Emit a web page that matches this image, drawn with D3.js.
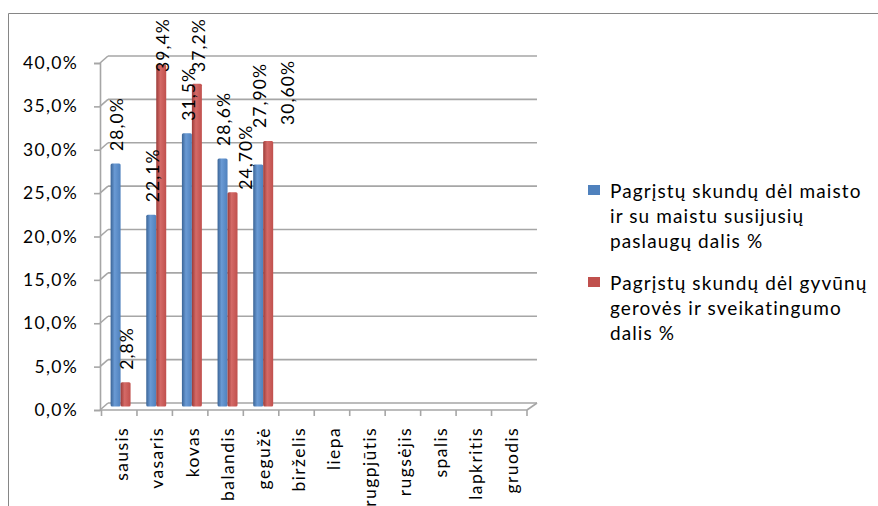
<!DOCTYPE html>
<html>
<head>
<meta charset="utf-8">
<script src="https://cdn.jsdelivr.net/npm/d3@7/dist/d3.min.js"></script>
<style>
  html, body { margin: 0; padding: 0; background: #fff; }
  svg { display: block; }
  text { font-family: Lato, "Open Sans", sans-serif; fill: #000; }
</style>
</head>
<body>
<svg id="chart" width="878" height="506"></svg>
<script>
// ---- data ----
const categories = ["sausis", "vasaris", "kovas", "balandis", "gegužė", "birželis",
                    "liepa", "rugpjūtis", "rugsėjis", "spalis", "lapkritis", "gruodis"];
const foodValues   = [28.0, 22.1, 31.5, 28.6, 27.9, null, null, null, null, null, null, null];
const animalValues = [2.8, 39.4, 37.2, 24.7, 30.6, null, null, null, null, null, null, null];
const foodLabels   = ["28,0%", "22,1%", "31,5%", "28,6%", "27,90%"];
const animalLabels = ["2,8%", "39,4%", "37,2%", "24,70%", "30,60%"];
const yTickValues  = [0, 5, 10, 15, 20, 25, 30, 35, 40];
const yTickLabels  = ["0,0%", "5,0%", "10,0%", "15,0%", "20,0%", "25,0%", "30,0%", "35,0%", "40,0%"];
const seriesNames  = [
  ["Pagrįstų skundų dėl maisto", "ir su maistu susijusių", "paslaugų dalis %"],
  ["Pagrįstų skundų dėl gyvūnų", "gerovės ir sveikatingumo", "dalis %"]
];

// ---- layout ----
const svg = d3.select("#chart");
const colors = ["#4F81BD", "#C0504D"];
const dark   = ["#3A6496", "#9B3B38"];
const light  = ["#6A9AD4", "#D46A67"];
const depth = { dx: 8, dy: -7 };
const frontLeft = 100, frontRight = 527;
const yFront = d3.scaleLinear().domain([0, 40]).range([410, 63]);
const yBar   = d3.scaleLinear().domain([0, 40]).range([406.5, 59.5]);
const xFront = d3.scaleBand().domain(categories).range([frontLeft + 1.5, frontRight]);
const xBar   = d3.scaleBand().domain(categories).range([frontLeft + 1.7, frontLeft + 1.7 + 12 * 35.65]);
// manual label nudges (Excel placement): [dx, dy]
const labelShift = [
  [[0, 0], [0, 0], [0, 0], [0, 0], [0, -24]],
  [[0, 0], [0, 0], [0, 0], [11.5, 10], [18, -3.5]]
];
const labelFont = 17.5, labelSpacing = 1.1;

// chart area border
svg.append("path")
  .attr("d", "M8.5,506 V13.5 H878")
  .attr("fill", "none").attr("stroke", "#868686").attr("stroke-width", 1);

// defs: gradients
const defs = svg.append("defs");
[0, 1].forEach(i => {
  const g = defs.append("linearGradient").attr("id", "grad" + i)
    .attr("x1", "0%").attr("x2", "100%").attr("y1", "0%").attr("y2", "0%");
  g.append("stop").attr("offset", "0%").attr("stop-color", dark[i]);
  g.append("stop").attr("offset", "40%").attr("stop-color", light[i]);
  g.append("stop").attr("offset", "100%").attr("stop-color", colors[i]);
});

const gridColor = "#A6A6A6";
const grid = svg.append("g");
yTickValues.forEach(v => {
  const yf = yFront(v), yb = yf + depth.dy;
  grid.append("line")
    .attr("x1", frontLeft + depth.dx).attr("x2", frontRight + depth.dx + 2)
    .attr("y1", yb).attr("y2", yb)
    .attr("stroke", gridColor).attr("stroke-width", 1.6);
  grid.append("line")
    .attr("x1", frontLeft).attr("y1", yf)
    .attr("x2", frontLeft + depth.dx).attr("y2", yb)
    .attr("stroke", gridColor).attr("stroke-width", 1.6);
});
grid.append("line")
  .attr("x1", frontRight).attr("y1", yFront(0))
  .attr("x2", frontRight + depth.dx + 2).attr("y2", yFront(0) + depth.dy)
  .attr("stroke", gridColor).attr("stroke-width", 1.6);

// value axis (front)
const yAxis = d3.axisLeft(yFront).tickValues(yTickValues)
  .tickFormat((d, i) => yTickLabels[i]).tickSize(6).tickPadding(16);
const ya = svg.append("g").attr("transform", `translate(${frontLeft},0)`).call(yAxis);
ya.select(".domain").attr("stroke", gridColor).attr("stroke-width", 1.6);
ya.selectAll(".tick line").attr("stroke", gridColor).attr("stroke-width", 1.6);
ya.selectAll(".tick text").attr("font-size", 17.5).attr("letter-spacing", 1.3)
  .style("font-family", "Lato, sans-serif").attr("fill", "#000");

// category axis
const xa = svg.append("g").attr("transform", `translate(0,${yFront(0)})`);
xa.append("line").attr("x1", frontLeft).attr("x2", frontRight)
  .attr("stroke", gridColor).attr("stroke-width", 1.6);
const boundaries = categories.map(c => xFront(c)).concat([xFront(categories[11]) + xFront.bandwidth()]);
xa.selectAll("line.tk").data(boundaries).enter().append("line").attr("class", "tk")
  .attr("x1", d => d).attr("x2", d => d).attr("y1", 0).attr("y2", 6)
  .attr("stroke", gridColor).attr("stroke-width", 1.6);
xa.selectAll("text.cat").data(categories).enter().append("text").attr("class", "cat")
  .attr("transform", d => `translate(${xFront(d) + xFront.bandwidth() / 2 + 2},17) rotate(-90)`)
  .attr("text-anchor", "end").attr("dominant-baseline", "central")
  .attr("font-size", 17.5).attr("letter-spacing", 1.4)
  .text(d => d);

// bars
const series = [foodValues, animalValues];
const seriesLabels = [foodLabels, animalLabels];
const bw = xBar.bandwidth();
series.forEach((vals, s) => {
  const g = svg.append("g");
  const rows = vals.map((v, i) => ({ v, i, c: categories[i] })).filter(d => d.v != null);
  g.selectAll("rect").data(rows).enter().append("rect")
    .attr("x", d => xBar(d.c) + bw * (0.25 + 0.28 * s))
    .attr("width", bw * 0.28)
    .attr("y", d => yBar(d.v))
    .attr("height", d => yBar(0) - yBar(d.v))
    .attr("rx", 1.5)
    .attr("fill", `url(#grad${s})`);
});

// data labels
series.forEach((vals, s) => {
  const g = svg.append("g");
  const rows = vals.map((v, i) => ({ v, i, c: categories[i] })).filter(d => d.v != null);
  g.selectAll("text").data(rows).enter().append("text")
    .attr("text-anchor", "start").attr("dominant-baseline", "central")
    .attr("font-size", labelFont).attr("letter-spacing", labelSpacing)
    .text(d => seriesLabels[s][d.i])
    .each(function (d) {
      const len = this.getComputedTextLength();
      const sh = labelShift[s][d.i];
      let bottom = yBar(d.v) - 12.5 + sh[1];
      if (bottom - len < 18) bottom = 18 + len;
      const cx = xBar(d.c) + bw * (0.25 + 0.28 * s + 0.14) + 1.3 + sh[0];
      d3.select(this).attr("transform", `translate(${cx},${bottom}) rotate(-90)`);
    });
});

// legend
const legend = svg.append("g");
const legendTop = [185, 277];
seriesNames.forEach((lines, s) => {
  legend.append("rect").attr("x", 588).attr("y", legendTop[s]).attr("width", 12).attr("height", 10)
    .attr("fill", colors[s]);
  lines.forEach((ln, k) => {
    legend.append("text").attr("x", 610).attr("y", legendTop[s] + 13 + k * 25)
      .attr("font-size", 19).attr("letter-spacing", 1.1).text(ln);
  });
});
</script>
</body>
</html>
